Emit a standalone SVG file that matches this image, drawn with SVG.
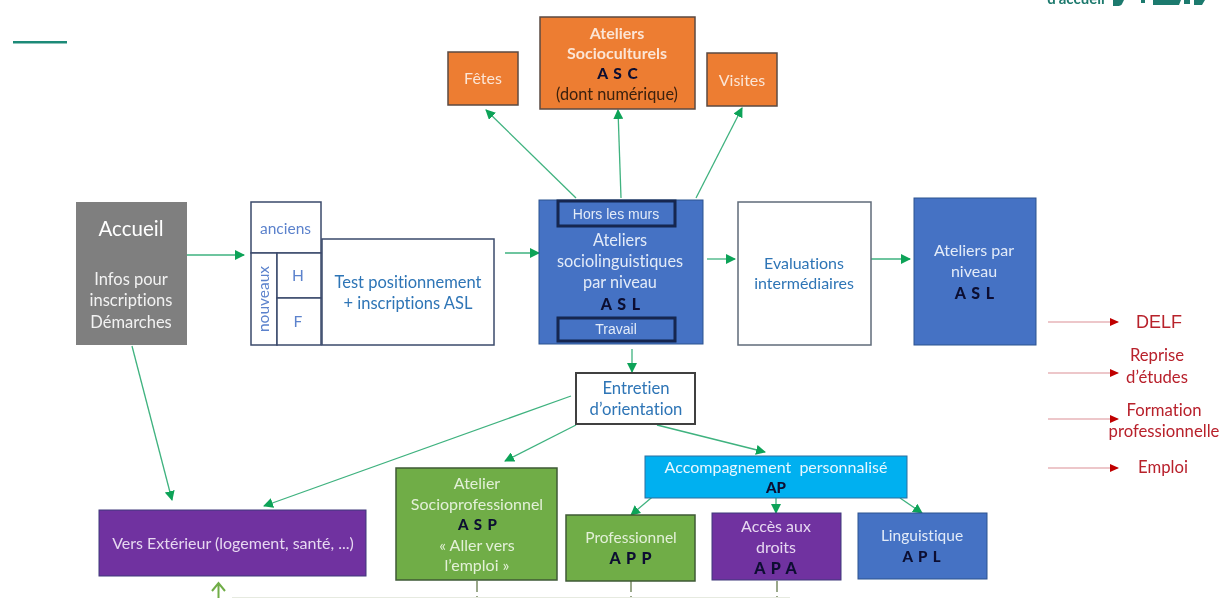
<svg xmlns="http://www.w3.org/2000/svg" width="1221" height="598" viewBox="0 0 1221 598">
<style>
text{font-family:Lato,"Open Sans","Liberation Sans",sans-serif;text-anchor:middle;font-size:16px;font-variant-ligatures:none}
.b{stroke:#3b4a6b;stroke-width:1.500}
.bl{fill:#2e75b6}.lb{fill:#5b82cc}.k{fill:#0b1030;font-weight:900;letter-spacing:1px}.r{fill:#b8202c;font-size:16.700px}
.wb{fill:#e3ebf8}.wg{fill:#e3f0d8}.wp{fill:#e6d8f0}.wo{fill:#fbe5d6}
.g{stroke:#3fb27f;stroke-width:1.300;fill:none;marker-end:url(#ga)}
.rd{stroke:#dc8f95;stroke-width:1.200;fill:none;marker-end:url(#ra)}
.o{fill:#ed7d31;stroke:#5b4a42;stroke-width:1.500}
.vg{fill:#70ad47;stroke:#3f5a35;stroke-width:1.500}
.vp{fill:#7030a0;stroke:#3f3a7a}
.vb{fill:#4472c4;stroke:#2f528f}
.in{fill:#4472c4;stroke:#12264f;stroke-width:3}
</style>
<defs>
<filter id="soft" x="0" y="0" width="100%" height="100%"><feGaussianBlur stdDeviation="0.400"/></filter>
<marker id="ga" markerWidth="10" markerHeight="10" refX="9" refY="5" orient="auto" markerUnits="userSpaceOnUse"><path d="M0 0L10 5L0 10Z" fill="#0fa358"/></marker>
<marker id="ra" markerWidth="9" markerHeight="8" refX="8" refY="4" orient="auto" markerUnits="userSpaceOnUse"><path d="M0 0L9 4L0 8Z" fill="#c00000"/></marker>
</defs>
<rect width="1221" height="598" fill="#fff"/>
<g filter="url(#soft)">
<rect x="13" y="41" width="54" height="2.500" fill="#1f8a78"/>
<text x="1076" y="4" style="font-size:15px;font-weight:700;fill:#1f7a6e">d'accueil</text>
<path d="M1113 0h11l-2 4q-1 2-5 2h-4ZM1141 0h4v3h-4ZM1153 0h28l-2 5h-26ZM1184 0h6v4h-6ZM1194 0h11l-3 5h-8Z" fill="#1f7a6e"/>
<g id="connectors">
<path class="g" d="M186 255H244"/>
<path class="g" d="M505 253H539"/>
<path class="g" d="M707 259H735"/>
<path class="g" d="M871 259H910"/>
<path class="g" d="M576 198L486 110"/>
<path class="g" d="M621 198L618 110"/>
<path class="g" d="M696 198L742 108"/>
<path class="g" d="M632 349V372"/>
<path class="g" d="M132 346L172 500"/>
<path class="g" d="M571 396L264 506"/>
<path class="g" d="M576 425L505 461"/>
<path class="g" d="M657 425L765 452"/>
<path class="g" d="M670 482L631 515"/>
<path class="g" d="M776 498V513"/>
<path class="g" d="M900 498L922 513"/>
<path class="rd" d="M1048 322H1118"/>
<path class="rd" d="M1048 373H1118"/>
<path class="rd" d="M1048 419H1118"/>
<path class="rd" d="M1048 468H1118"/>
<path d="M218.500 598V583M212 591L218.500 583L225 591" fill="none" stroke="#70ad47" stroke-width="2"/>
<path d="M477 581V592M477 596V598M631 581V592M631 596V598M777 581V592M777 596V598" fill="none" stroke="#9aa88a" stroke-width="2"/>
<path d="M232 597.500H790" fill="none" stroke="#e6eae0" stroke-width="1"/>
</g>
<g id="accueil"><rect x="76" y="202" width="111" height="143" fill="#7f7f7f"/>
<text x="131" y="236" style="font-size:20.500px" fill="#fff">Accueil</text>
<text x="131" y="285" fill="#f2f2f2" style="font-size:16.500px">Infos pour</text><text x="131" y="306" fill="#f2f2f2" style="font-size:16.500px">inscriptions</text><text x="131" y="328" fill="#f2f2f2" style="font-size:16.500px">Démarches</text></g>
<g id="anciens"><rect class="b" x="251" y="202" width="70" height="51" fill="#fff"/><text class="lb" x="285.500" y="234" style="font-size:15.500px">anciens</text></g>
<g id="nouveaux"><rect class="b" x="251" y="253" width="26" height="92" fill="#fff"/><text class="lb" transform="translate(269,299) rotate(-90)" style="font-size:15.500px">nouveaux</text></g>
<g id="h"><rect class="b" x="277" y="253" width="44" height="45" fill="#fff"/><text class="lb" x="298" y="281" style="font-size:15.500px">H</text></g>
<g id="f"><rect class="b" x="277" y="298" width="44" height="47" fill="#fff"/><text class="lb" x="298" y="327" style="font-size:15.500px">F</text></g>
<g id="test"><rect class="b" x="322" y="239" width="172" height="106" fill="#fff"/>
<text class="bl" x="408" y="288" style="font-size:16.500px">Test positionnement</text><text class="bl" x="408" y="309" style="font-size:16.500px">+ inscriptions ASL</text></g>
<g id="fetes"><rect class="o" x="448" y="52" width="70" height="53"/><text class="wo" x="483" y="84">Fêtes</text></g>
<g id="asc"><rect class="o" x="540" y="17" width="155" height="92"/>
<text class="wo" x="617" y="39" style="font-weight:700">Ateliers</text><text class="wo" x="617" y="59" style="font-weight:700">Socioculturels</text>
<text class="k" x="618" y="79" style="font-size:15.500px">A S C</text><text x="617" y="100" fill="#3a2010" style="font-size:16.300px">(dont numérique)</text></g>
<g id="visites"><rect class="o" x="707" y="53" width="70" height="53"/><text class="wo" x="742" y="86">Visites</text></g>
<g id="asl"><rect class="vb" x="539" y="200" width="164" height="144"/>
<text class="wb" x="620" y="246" style="font-size:16.300px">Ateliers</text><text class="wb" x="620" y="267" style="font-size:16.300px">sociolinguistiques</text><text class="wb" x="620" y="288" style="font-size:16.300px">par niveau</text>
<text class="k" x="621" y="310">A S L</text></g>
<g id="hors"><rect class="in" x="558" y="201" width="117" height="25"/><text class="wb" x="616" y="219" style="font-family:'Liberation Sans',sans-serif;font-size:14px">Hors les murs</text></g>
<g id="travail"><rect class="in" x="558" y="318" width="117" height="23"/><text class="wb" x="616" y="334" style="font-family:'Liberation Sans',sans-serif;font-size:14px">Travail</text></g>
<g id="eval"><rect x="738" y="202" width="133" height="143" fill="#fff" stroke="#5f6b7a" stroke-width="1.500"/>
<text class="bl" x="804" y="269">Evaluations</text><text class="bl" x="804" y="289">intermédiaires</text></g>
<g id="asl2"><rect class="vb" x="914" y="198" width="122" height="147"/>
<text class="wb" x="974" y="256">Ateliers par</text><text class="wb" x="974" y="277">niveau</text><text class="k" x="975" y="299">A S L</text></g>
<g id="entretien"><rect x="576" y="373" width="119" height="51" fill="#fff" stroke="#404040" stroke-width="2"/>
<text class="bl" x="636" y="394" style="font-size:16.700px">Entretien</text><text class="bl" x="636" y="415" style="font-size:16.700px">d’orientation</text></g>
<g id="exterieur"><rect class="vp" x="99" y="510" width="267" height="66"/><text class="wp" x="233" y="549">Vers Extérieur (logement, santé, ...)</text></g>
<g id="asp"><rect class="vg" x="396" y="468" width="161" height="112"/>
<text class="wg" x="477" y="489">Atelier</text><text class="wg" x="477" y="510">Socioprofessionnel</text><text class="k" x="478" y="530" style="font-size:15px">A S P</text><text class="wg" x="477" y="551">« Aller vers</text><text class="wg" x="477" y="571">l’emploi »</text></g>
<g id="ap"><rect x="645" y="456" width="262" height="42" fill="#00b0f0" stroke="#2f6f9f"/>
<text x="776" y="473" fill="#e6f7ff" xml:space="preserve">Accompagnement  personnalisé</text><text x="776" y="493" class="k" style="letter-spacing:0;font-size:15px">AP</text></g>
<g id="app"><rect class="vg" x="566" y="515" width="129" height="66"/>
<text class="wg" x="631" y="543" style="font-size:15.500px">Professionnel</text><text class="k" x="631" y="564">A P P</text></g>
<g id="apa"><rect class="vp" x="712" y="513" width="129" height="67"/>
<text class="wp" x="776" y="532">Accès aux</text><text class="wp" x="776" y="553">droits</text><text class="k" x="776" y="574">A P A</text></g>
<g id="apl"><rect class="vb" x="858" y="513" width="129" height="66"/>
<text class="wb" x="922" y="541" style="font-size:15.500px">Linguistique</text><text class="k" x="922" y="562" style="font-size:15px">A P L</text></g>
<g id="issues">
<text class="r" x="1159" y="328" style="font-size:18px;font-family:'Liberation Sans',sans-serif">DELF</text>
<text class="r" x="1157" y="361">Reprise</text><text class="r" x="1157" y="383">d’études</text>
<text class="r" x="1164" y="416">Formation</text><text class="r" x="1164" y="437">professionnelle</text>
<text class="r" x="1163" y="473">Emploi</text></g>
</g>
</svg>
